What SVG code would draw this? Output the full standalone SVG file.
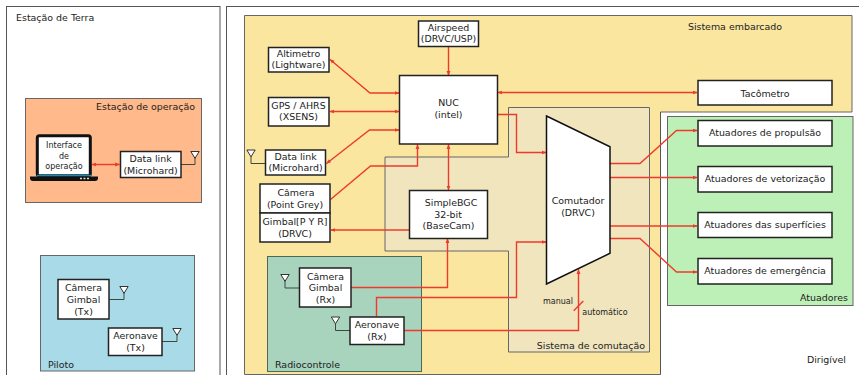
<svg xmlns="http://www.w3.org/2000/svg" width="859" height="375" viewBox="0 0 859 375">
<defs>
<marker id="ah" viewBox="0 0 6 6" refX="5.5" refY="3" markerWidth="4.8" markerHeight="4.8" markerUnits="userSpaceOnUse" orient="auto-start-reverse"><path d="M0 0.6L6 3L0 5.4Z" fill="#ee3a2c"/></marker>
<g id="ant"><path d="M-4.2 0H4.2L0 6.8Z" fill="#fff" stroke="#333" stroke-width="1"/></g>
</defs>
<style>
text{font-family:"DejaVu Sans",sans-serif;font-size:9.45px;fill:#222;text-anchor:middle}
.s{font-size:8px}
.l{text-anchor:start}
.e{text-anchor:end}
.b{fill:#fff;stroke:#222;stroke-width:1.5}
.p{stroke:#666;stroke-width:1}
.c{fill:none;stroke:#ee3a2c;stroke-width:1.4}
.a{fill:none;stroke:#3a4a40;stroke-width:1}
</style>
<rect width="859" height="375" fill="#fff"/>
<g id="estacao-terra"><rect x="6.500" y="6.500" width="213.500" height="380" fill="#fff" stroke="#555"/><text class="l" x="16" y="20.500">Estação de Terra</text></g>
<g id="dirigivel"><rect x="226.500" y="6.500" width="650" height="380" fill="#fff" stroke="#555"/><text class="e" x="846" y="362.500">Dirigível</text></g>
<g id="sistema-embarcado"><path class="p" d="M244.500 15.500H852V112H660.500V374.500H244.500Z" fill="#fbe6a0" /><path d="M660.500 112V374.500" stroke="#555" fill="none"/><text x="735" y="29.500">Sistema embarcado</text></g>
<g id="sistema-comutacao"><path class="p" d="M508.500 107.500H649.500V352H508.500V251H385V157H508.500Z" fill="#f0e5bd" stroke="#666"/><text class="e" x="645" y="349">Sistema de comutação</text></g>
<g id="atuadores"><rect class="p" x="667.500" y="116.500" width="185.500" height="189" fill="#bdf0b7"/><text class="e" x="848" y="301">Atuadores</text></g>
<g id="radiocontrole"><rect x="267.500" y="256.500" width="154" height="115" fill="#a8d3bc" stroke="#4a6a58"/><text class="l" x="275" y="368">Radiocontrole</text></g>
<g id="estacao-operacao"><rect class="p" x="25.500" y="98.500" width="176" height="104" fill="#ffb98a"/><text class="e" x="195" y="110">Estação de operação</text></g>
<g id="piloto"><rect class="p" x="40.500" y="255.500" width="154" height="115.500" fill="#a8dae8"/><text class="l" x="48" y="368">Piloto</text></g>
<g id="connectors">
<path class="c" d="M92 164.500H119.500" marker-start="url(#ah)" marker-end="url(#ah)"/>
<path class="c" d="M448.500 47V75.500" marker-end="url(#ah)"/>
<path class="c" d="M330 59.500L370 93H399" marker-start="url(#ah)" marker-end="url(#ah)"/>
<path class="c" d="M330 111.500H399" marker-start="url(#ah)" marker-end="url(#ah)"/>
<path class="c" d="M326.500 163.500L369.500 130H399" marker-start="url(#ah)" marker-end="url(#ah)"/>
<path class="c" d="M330.500 199.500L370.500 166H417.500V144.500" marker-end="url(#ah)"/>
<path class="c" d="M448.500 144.500V190" marker-start="url(#ah)" marker-end="url(#ah)"/>
<path class="c" d="M409 230H331" marker-end="url(#ah)"/>
<path class="c" d="M351 287.500H447.500V238.500" marker-end="url(#ah)"/>
<path class="c" d="M376.500 316.500V297.500H516.500V242H546" marker-end="url(#ah)"/>
<path class="c" d="M404 330.500H578.500V269.500" marker-end="url(#ah)"/>
<path class="c" d="M573.700 310.700L583.300 301"/>
<path class="c" d="M497.500 114.500H516.500V152.500H546" marker-end="url(#ah)"/>
<path class="c" d="M498 92.500H697" marker-start="url(#ah)" marker-end="url(#ah)"/>
<path class="c" d="M610 163.500H640L676.500 130.500H697" marker-end="url(#ah)"/>
<path class="c" d="M610 177.500H697" marker-end="url(#ah)"/>
<path class="c" d="M610 226H697" marker-end="url(#ah)"/>
<path class="c" d="M610 238.500H640L676.500 272H697" marker-end="url(#ah)"/>
</g>
<g id="interface"><rect x="37.300" y="135.800" width="53" height="40" rx="2" fill="#fff" stroke="#111" stroke-width="3"/><path d="M30 176.500H98V178Q98 181 95 181H33Q30 181 30 178Z" fill="#111"/><path d="M37 175.500H91" stroke="#1e88b0" stroke-width="1.300"/><path d="M80 178.500H89" stroke="#ddd" stroke-width="1.500" stroke-dasharray="2 1.500"/><text class="s" x="64" y="148">Interface</text><text class="s" x="64" y="158.500">de</text><text class="s" x="64" y="168.500">operação</text></g>
<g id="datalink-op"><path class="a" d="M181 164.500H195V157"/><use href="#ant" x="195" y="151.500"/><rect class="b" x="120.500" y="151.500" width="60.500" height="26"/><text x="150.500" y="162">Data link</text><text x="150.500" y="173.500">(Microhard)</text></g>
<g id="camera-tx"><path class="a" d="M109 299.500H124V293"/><use href="#ant" x="124" y="286.500"/><rect class="b" x="58" y="279.500" width="51" height="39.500"/><text x="83.500" y="291">Câmera</text><text x="83.500" y="302.500">Gimbal</text><text x="83.500" y="315">(Tx)</text></g>
<g id="aeronave-tx"><path class="a" d="M162 341.500H177V335"/><use href="#ant" x="177" y="328.500"/><rect class="b" x="108.500" y="328" width="53.500" height="27.500"/><text x="135.500" y="339">Aeronave</text><text x="135.500" y="351">(Tx)</text></g>
<g id="airspeed"><rect class="b" x="418.500" y="21" width="60" height="25.500"/><text x="448.500" y="30.500">Airspeed</text><text x="448.500" y="42">(DRVC/USP)</text></g>
<g id="altimetro"><rect class="b" x="268.500" y="47.500" width="60.500" height="24.500"/><text x="298.500" y="56.500">Altimetro</text><text x="298.500" y="68">(Lightware)</text></g>
<g id="gps"><rect class="b" x="268.500" y="97.500" width="60.500" height="28.500"/><text x="298.500" y="108.500">GPS / AHRS</text><text x="298.500" y="120">(XSENS)</text></g>
<g id="nuc"><rect class="b" x="399.500" y="75.500" width="98" height="68.500"/><text x="448.500" y="106">NUC</text><text x="448.500" y="118">(intel)</text></g>
<g id="datalink-emb"><path class="a" d="M265 163.500H251V156"/><use href="#ant" x="251" y="150"/><rect class="b" x="265.500" y="150" width="60" height="25"/><text x="295.500" y="159.500">Data link</text><text x="295.500" y="171">(Microhard)</text></g>
<g id="camera"><rect class="b" x="260" y="184" width="70" height="29"/><text x="296" y="196">Câmera</text><text x="295" y="207.500">(Point Grey)</text></g>
<g id="gimbal"><rect class="b" x="260" y="213" width="70" height="29"/><text x="295" y="225">Gimbal[P Y R]</text><text x="295" y="237">(DRVC)</text></g>
<g id="simplebgc"><rect class="b" x="409.500" y="190.500" width="78" height="48"/><text x="451" y="206">SimpleBGC</text><text x="448" y="217.500">32-bit</text><text x="448.500" y="229">(BaseCam)</text></g>
<g id="camera-rx"><path class="a" d="M299 288H285V281"/><use href="#ant" x="285" y="274.500"/><rect class="b" x="299.500" y="268" width="51.500" height="39"/><text x="325.500" y="279.500">Câmera</text><text x="325.500" y="291">Gimbal</text><text x="325.500" y="303">(Rx)</text></g>
<g id="aeronave-rx"><path class="a" d="M350 330.500H335.500V323.500"/><use href="#ant" x="335.500" y="317"/><rect class="b" x="350" y="317" width="54" height="27.500"/><text x="377" y="327.500">Aeronave</text><text x="377" y="339.500">(Rx)</text></g>
<g id="comutador"><path d="M546.500 116L610 146.800V253.300L546.500 284Z" fill="#fff" stroke="#111" stroke-width="1.500"/><text x="578" y="204">Comutador</text><text x="578" y="216">(DRVC)</text></g>
<text class="s" x="558" y="304">manual</text>
<text class="s" x="605" y="314.500">automático</text>
<g id="tacometro"><rect class="b" x="698" y="80.500" width="134" height="24.500"/><text x="765" y="96.500">Tacômetro</text></g>
<g id="propulsao"><rect class="b" x="698" y="120.500" width="134" height="25.500"/><text x="765" y="136">Atuadores de propulsão</text></g>
<g id="vetorizacao"><rect class="b" x="698" y="166.500" width="134" height="25.500"/><text x="765" y="182">Atuadores de vetorização</text></g>
<g id="superficies"><rect class="b" x="698" y="212.500" width="134" height="25"/><text x="765" y="228">Atuadores das superfícies</text></g>
<g id="emergencia"><rect class="b" x="698" y="258.500" width="134" height="25.500"/><text x="765" y="274">Atuadores de emergência</text></g>
</svg>
